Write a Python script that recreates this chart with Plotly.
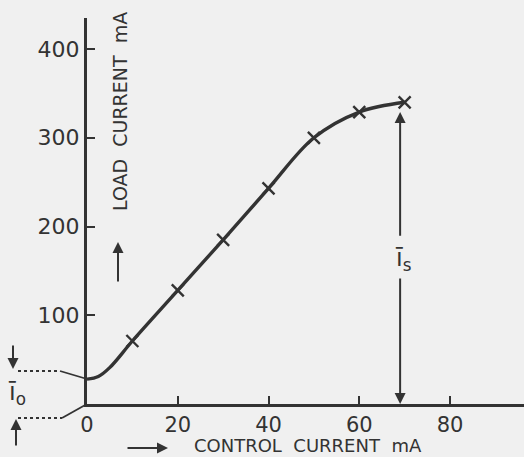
import plotly.graph_objects as go

# ---- data ----
control_ma = [10, 20, 30, 40, 50, 60, 70]          # control current (mA), measured points
load_ma = [71, 128, 185, 243, 300, 329, 340]       # load current (mA)
curve_start_x = [0, 2.5, 5]                         # start of drawn curve (no markers)
curve_start_y = [28, 31, 41]
x_tick_vals = [0, 20, 40, 60, 80]
x_tick_text = ["0", "20", "40", "60", "80"]
y_tick_vals = [100, 200, 300, 400]
y_tick_text = ["100", "200", "300", "400"]
i_s_x = 69          # position of the saturation-current arrow

INK = "#333333"
BG = "#f0f0f0"
FONT = "DejaVu Sans"

# layout geometry (pixels)
W, H = 524, 457
ML, MR, MT, MB = 87, 0, 18, 53
PW, PH = W - ML - MR, H - MT - MB


def px(x):
    return (x - ML) / PW


def py(y):
    return (H - MB - y) / PH


fig = go.Figure()

fig.add_trace(go.Scatter(
    x=curve_start_x + control_ma, y=curve_start_y + load_ma,
    mode="lines", line=dict(color=INK, width=3.4, shape="spline", smoothing=1.0),
    hoverinfo="skip", showlegend=False))
fig.add_trace(go.Scatter(
    x=control_ma, y=load_ma, mode="markers",
    marker=dict(symbol="x-thin", size=12, line=dict(color=INK, width=2.4), color=INK),
    showlegend=False))

shapes = []
# dotted leaders for i_o
shapes.append(dict(type="line", xref="paper", yref="paper", x0=px(18), y0=py(371), x1=px(60), y1=py(371),
                   line=dict(color=INK, width=2, dash="dot")))
shapes.append(dict(type="line", xref="paper", yref="paper", x0=px(60), y0=py(371), x1=px(87), y1=py(379),
                   line=dict(color=INK, width=1.8)))
shapes.append(dict(type="line", xref="paper", yref="paper", x0=px(18), y0=py(418), x1=px(62), y1=py(418),
                   line=dict(color=INK, width=2, dash="dot")))
shapes.append(dict(type="line", xref="paper", yref="paper", x0=px(62), y0=py(418), x1=px(87), y1=py(404),
                   line=dict(color=INK, width=1.8)))

ann = []
arrow = dict(showarrow=True, arrowhead=2, arrowsize=1.1, arrowwidth=2, arrowcolor=INK, text="")
# i_s arrows
ann.append(dict(arrow, x=i_s_x, y=329, ax=i_s_x, ay=188, xref="x", yref="y", axref="x", ayref="y"))
ann.append(dict(arrow, x=i_s_x, y=0, ax=i_s_x, ay=143, xref="x", yref="y", axref="x", ayref="y"))
ann.append(dict(x=i_s_x, y=163, xref="x", yref="y", text="ī<sub>s</sub>", showarrow=False,
                xanchor="left", yanchor="middle", xshift=-7,
                font=dict(family=FONT, size=24, color=INK)))
# i_o arrows and label
ann.append(dict(arrow, x=px(13), y=py(369), ax=0, ay=-25, xref="paper", yref="paper"))
ann.append(dict(arrow, x=px(16), y=py(419), ax=0, ay=28, xref="paper", yref="paper"))
ann.append(dict(x=px(6), y=py(393), xref="paper", yref="paper", text="ī<sub>o</sub>", showarrow=False,
                xanchor="left", yanchor="middle", font=dict(family=FONT, size=24, color=INK)))
# axis titles
ann.append(dict(x=px(120), y=py(112), xref="paper", yref="paper", text="LOAD  CURRENT  mA",
                textangle=-90, showarrow=False, xanchor="center", yanchor="middle",
                font=dict(family=FONT, size=19, color=INK)))
ann.append(dict(arrow, x=px(118), y=py(242), ax=0, ay=41, xref="paper", yref="paper"))
ann.append(dict(x=px(192), y=py(445), xref="paper", yref="paper", text="CONTROL  CURRENT  mA",
                xanchor="left", yanchor="middle", showarrow=False,
                font=dict(family=FONT, size=18, color=INK)))
ann.append(dict(arrow, x=px(168), y=py(448), ax=-42, ay=0, xref="paper", yref="paper"))

fig.update_layout(
    width=W, height=H, margin=dict(l=ML, r=MR, t=MT, b=MB),
    paper_bgcolor=BG, plot_bgcolor=BG,
    shapes=shapes, annotations=ann, showlegend=False,
    xaxis=dict(range=[0, 96.3], showgrid=False, zeroline=False, showline=True, linecolor=INK, linewidth=3,
               ticks="inside", ticklen=8, tickwidth=1.6, tickcolor=INK,
               tickvals=x_tick_vals, ticktext=x_tick_text,
               tickfont=dict(family=FONT, size=21, color=INK)),
    yaxis=dict(range=[0, 435], showgrid=False, zeroline=False, showline=True, linecolor=INK, linewidth=3,
               ticks="inside", ticklen=8, tickwidth=1.6, tickcolor=INK,
               tickvals=y_tick_vals, ticktext=y_tick_text,
               tickfont=dict(family=FONT, size=22, color=INK)),
)

fig.write_html("out.html")
